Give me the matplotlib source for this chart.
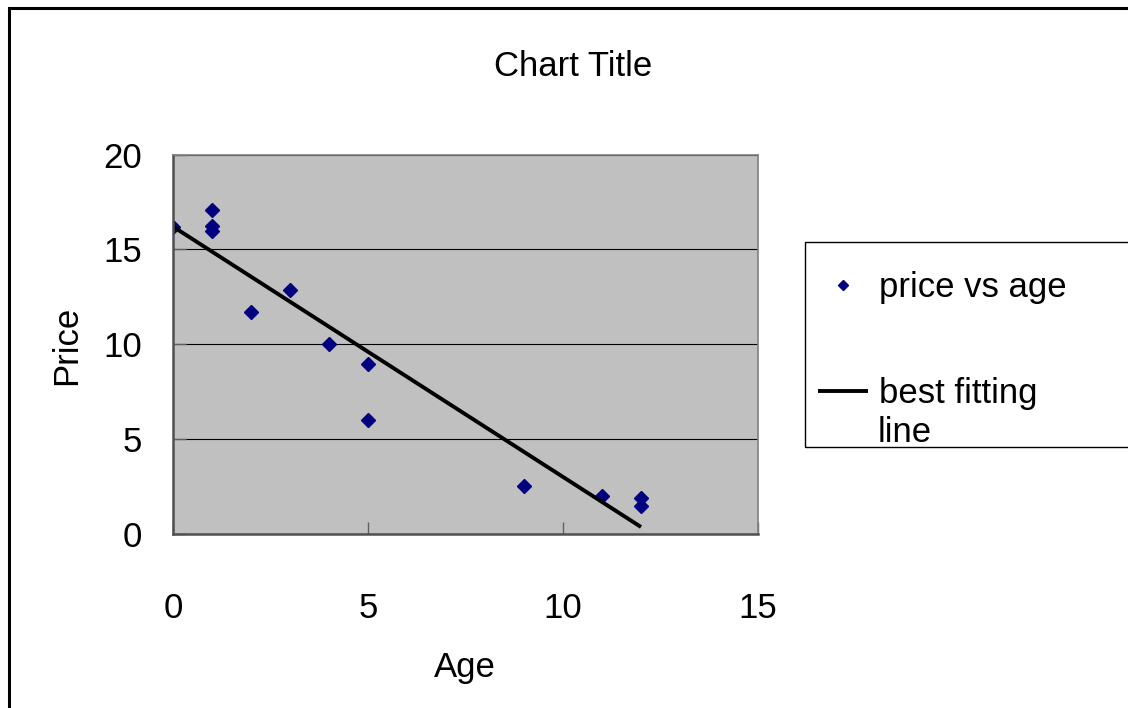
import matplotlib.pyplot as plt
from matplotlib.patches import Rectangle

plt.rcParams['font.family'] = ['Liberation Sans', 'DejaVu Sans']

age = [0, 1, 1, 1, 2, 3, 4, 5, 5, 9, 11, 12, 12]
price = [16.2, 17.07, 16.23, 15.98, 11.7, 12.86, 10.0, 8.96, 6.0, 2.53, 2.0, 1.9, 1.45]
fit_x = [0, 12]
fit_y = [16.2, 0.37]
xticks = [0, 5, 10, 15]
yticks = [0, 5, 10, 15, 20]

fs = 25

fig = plt.figure(figsize=(11.28, 7.08), dpi=100)
ax = fig.add_axes([173 / 1128, 1 - 534 / 708, 585 / 1128, 379.5 / 708])
ax.set_facecolor('#c0c0c0')

ax.plot(age, price, 'D', color='#000080', ms=7, label='price vs age')
ax.plot(fit_x, fit_y, color='black', lw=2.8, solid_capstyle='butt', label='best fitting')

ax.set_xlim(0, 15)
ax.set_ylim(0, 20)
ax.set_xticks(xticks)
ax.set_yticks(yticks)
ax.yaxis.grid(True, color='black', lw=0.8)
ax.set_axisbelow(True)
ax.tick_params(axis='x', direction='in', length=9, width=1, color='#606060', labelsize=fs, pad=42)
ax.tick_params(axis='y', direction='in', length=9, width=1, color='#606060', labelsize=fs, pad=22)
for s in ax.spines.values():
    s.set_color('#808080')
    s.set_linewidth(1.2)
ax.spines['left'].set_color('#505050')
ax.spines['bottom'].set_color('#505050')
ax.spines['left'].set_linewidth(1.8)
ax.spines['bottom'].set_linewidth(1.8)

fig.text(573 / 1128, 1 - 66 / 708, 'Chart Title', ha='center', va='center', fontsize=fs)
fig.text(67 / 1128, 1 - 345 / 708, 'Price', ha='center', va='center', rotation=90, fontsize=fs)
fig.text(465 / 1128, 1 - 668 / 708, 'Age', ha='center', va='center', fontsize=fs)

# legend box (clipped by the right edge as in the original)
fig.patches.append(Rectangle((805 / 1128, 1 - 447 / 708), 0.4, 205 / 708,
                             transform=fig.transFigure, fill=False, ec='black', lw=1))
leg = fig.legend(loc='upper left', bbox_to_anchor=(818 / 1128, 1 - 271 / 708),
                 frameon=False, fontsize=fs, handlelength=1.45, handletextpad=0.3,
                 labelspacing=2.1, markerscale=0.7, borderaxespad=0, borderpad=0)
# wrapped remainder of the second legend label
fig.text(878 / 1128, 1 - 432 / 708, 'line', ha='left', va='center', fontsize=fs)

# outer chart frame
fig.patches.append(Rectangle((8.5 / 1128, -0.1), 1.2, 1.1 - 7.5 / 708,
                             transform=fig.transFigure, fill=False, ec='black', lw=2.2))

fig.savefig('out.png', dpi=100)
